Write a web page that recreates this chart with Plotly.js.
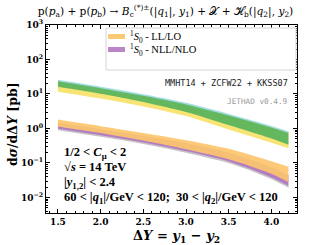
<!DOCTYPE html>
<html>
<head>
<meta charset="utf-8">
<script src="https://cdn.plot.ly/plotly-3.0.1.min.js"></script>
<style>html,body{margin:0;padding:0;background:#fff;}#chart{width:316px;height:245px;}</style>
</head>
<body>
<div id="chart"></div>
<script>
// Rapidity separation values
var deltaY = [1.5, 2.0, 2.5, 3.0, 3.5, 4.0, 4.2];

// Upper family (not in legend): LL/LO yellow band, NLL/NLO green band [pb]
var upperLL_lo  = [11.7, 7.41, 4.37, 2.29, 0.933, 0.389, 0.269];
var upperLL_hi  = [18.6, 12.3, 7.59, 4.37, 2.34, 1.12, 0.813];
var upperNLL_lo = [16.2, 10.2, 5.89, 3.02, 1.26, 0.513, 0.339];
var upperNLL_hi = [24.5, 15.5, 9.33, 5.25, 2.51, 1.12, 0.776];

// 1S0 family: LL/LO orange band, NLL/NLO purple band [pb]
var s0LL_lo  = [1.15, 0.741, 0.447, 0.251, 0.129, 0.049, 0.0282];
var s0LL_hi  = [1.82, 1.17, 0.741, 0.457, 0.257, 0.112, 0.0776];
var s0NLL_lo = [0.933, 0.603, 0.372, 0.209, 0.105, 0.0363, 0.0204];
var s0NLL_hi = [1.48, 0.955, 0.617, 0.380, 0.200, 0.0759, 0.0447];

// Axis ticks
var yTickVals = [0.01, 0.1, 1, 10, 100, 1000];
var yTickText = ['10<sup>−2</sup>', '10<sup>−1</sup>', '10<sup>0</sup>', '10<sup>1</sup>', '10<sup>2</sup>', '10<sup>3</sup>'];
var xTickVals = [1.5, 2.0, 2.5, 3.0, 3.5, 4.0];
var xTickText = ['1.5', '2.0', '2.5', '3.0', '3.5', '4.0'];

var legendNames = ['<sup>1</sup><i>S</i><sub>0</sub> - LL/LO', '<sup>1</sup><i>S</i><sub>0</sub> - NLL/NLO'];
var legendColors = ['rgba(252,198,110,0.95)', 'rgba(184,126,196,0.95)'];

function band(lo, hi, fill, name, loLine, hiLine) {
  var sm = {width: 0, shape: 'spline', smoothing: 0.8};
  var a = {x: deltaY, y: lo, mode: 'lines', hoverinfo: 'skip', showlegend: false, line: loLine || sm, name: name + ' low'};
  var b = {x: deltaY, y: hi, mode: 'lines', hoverinfo: 'skip', showlegend: false, fill: 'tonexty', fillcolor: fill,
           line: hiLine || sm, name: name};
  return [a, b];
}

var traces = [].concat(
  band(s0NLL_lo, s0NLL_hi, 'rgba(176,118,190,0.95)', '1S0 NLL/NLO',
       {width: 1.6, color: 'rgba(196,196,196,0.95)', shape: 'spline', smoothing: 0.8}),
  band(s0LL_lo, s0LL_hi, 'rgba(252,198,110,0.92)', '1S0 LL/LO'),
  band(upperLL_lo, upperLL_hi, 'rgba(248,226,110,0.95)', 'upper LL/LO'),
  band(upperNLL_lo, upperNLL_hi, 'rgba(92,180,92,0.95)', 'upper NLL/NLO', null,
       {width: 1.6, color: 'rgba(160,220,225,0.95)', shape: 'spline', smoothing: 0.8})
);

var serif = 'Liberation Serif, DejaVu Serif, serif';
var dserif = 'DejaVu Serif, Liberation Serif, serif';
var mono = 'DejaVu Sans Mono, Liberation Mono, monospace';

// pixel helpers for paper placement (plot area: x 46..297, y 25..213)
function px(x) { return (x - 46) / 251; }
function py(y) { return (213 - y) / 188; }

var shapes = [
  {type: 'rect', xref: 'paper', yref: 'paper', x0: px(106), x1: px(296), y0: py(70), y1: py(28),
   line: {color: '#d4d4d4', width: 1}, fillcolor: '#fff', layer: 'above'},
  {type: 'rect', xref: 'paper', yref: 'paper', x0: px(108), x1: px(125), y0: py(39), y1: py(34),
   line: {width: 0}, fillcolor: legendColors[0], layer: 'above'},
  {type: 'rect', xref: 'paper', yref: 'paper', x0: px(108), x1: px(125), y0: py(52), y1: py(47),
   line: {width: 0}, fillcolor: legendColors[1], layer: 'above'}
];

var annotations = [
  {xref: 'paper', yref: 'paper', x: px(128), y: py(36.5), xanchor: 'left', yanchor: 'middle', showarrow: false,
   text: legendNames[0], font: {family: serif, size: 10.5, color: '#000'}},
  {xref: 'paper', yref: 'paper', x: px(128), y: py(49.5), xanchor: 'left', yanchor: 'middle', showarrow: false,
   text: legendNames[1], font: {family: serif, size: 10.5, color: '#000'}},
  {xref: 'paper', yref: 'paper', x: px(290), y: py(83), xanchor: 'right', yanchor: 'middle', showarrow: false,
   text: 'MMHT14 + ZCFW22 + KKSS07', font: {family: mono, size: 8.5, color: '#222'}},
  {xref: 'paper', yref: 'paper', x: px(290), y: py(101), xanchor: 'right', yanchor: 'middle', showarrow: false,
   text: 'JETHAD v0.4.9', font: {family: mono, size: 7.7, color: '#999'}},
  {xref: 'paper', yref: 'paper', x: px(62), y: py(152.5), xanchor: 'left', yanchor: 'middle', showarrow: false,
   text: '<b>1/2 < <i>C</i><sub>μ</sub> < 2</b>', font: {family: serif, size: 12.5, color: '#000'}},
  {xref: 'paper', yref: 'paper', x: px(62), y: py(167), xanchor: 'left', yanchor: 'middle', showarrow: false,
   text: '<b>√<i>s</i> = 14 TeV</b>', font: {family: serif, size: 12.5, color: '#000'}},
  {xref: 'paper', yref: 'paper', x: px(62), y: py(182.5), xanchor: 'left', yanchor: 'middle', showarrow: false,
   text: '<b>|<i>y</i><sub>1,2</sub>| < 2.4</b>', font: {family: serif, size: 12.5, color: '#000'}},
  {xref: 'paper', yref: 'paper', x: px(62), y: py(197.5), xanchor: 'left', yanchor: 'middle', showarrow: false,
   text: '<b>60 < |<i>q</i><sub>1</sub>|/GeV < 120;  30 < |<i>q</i><sub>2</sub>|/GeV < 120</b>', font: {family: serif, size: 12.5, color: '#000'}},
  // axis titles
  {xref: 'paper', yref: 'paper', x: px(12), y: py(124), xanchor: 'center', yanchor: 'middle', showarrow: false, textangle: -90,
   text: '<b>d<i>σ</i>/dΔ<i>Y</i> [pb]</b>', font: {family: dserif, size: 12.5, color: '#000'}},
  {xref: 'paper', yref: 'paper', x: px(176), y: py(236), xanchor: 'center', yanchor: 'middle', showarrow: false,
   text: '<b>Δ<i>Y</i> = <i>y</i><sub>1</sub> − <i>y</i><sub>2</sub></b>', font: {family: dserif, size: 13, color: '#000'}}
];

var layout = {
  width: 316, height: 245,
  margin: {l: 46, r: 19, t: 25, b: 32, pad: 0},
  paper_bgcolor: '#fff', plot_bgcolor: '#fff',
  showlegend: false,
  title: {
    text: 'p(<i>p</i><sub>a</sub>) + p(<i>p</i><sub>b</sub>) → <i>B</i><sub>c</sub><sup>(*)±</sup>(|<i>q</i><sub>1</sub>|, <i>y</i><sub>1</sub>) + 𝒳 + ℋ<sub>b</sub>(|<i>q</i><sub>2</sub>|, <i>y</i><sub>2</sub>)',
    font: {family: dserif, size: 10.6, color: '#000'},
    x: px(165.5), xref: 'paper', xanchor: 'center', y: 0.955, yanchor: 'middle'
  },
  xaxis: {
    range: [1.36, 4.30], tickmode: 'array', tickvals: xTickVals, ticktext: xTickText,
    ticks: 'inside', ticklen: 4, tickcolor: '#000', showline: true, linecolor: '#000', linewidth: 1,
    mirror: 'allticks', showgrid: false, zeroline: false,
    minor: {ticks: 'inside', ticklen: 2, tick0: 1.5, dtick: 0.1, tickcolor: '#000', showgrid: false},
    tickfont: {family: dserif, size: 9, weight: 'bold', color: '#000'}
  },
  yaxis: {
    type: 'log', range: [-2.45, 3], tickmode: 'array', tickvals: yTickVals, ticktext: yTickText,
    ticks: 'inside', ticklen: 4, tickcolor: '#000', showline: true, linecolor: '#000', linewidth: 1,
    mirror: 'allticks', showgrid: false, zeroline: false,
    minor: {ticks: 'inside', ticklen: 2, dtick: 'D1', tickcolor: '#000', showgrid: false},
    tickfont: {family: dserif, size: 9, weight: 'bold', color: '#000'}
  },
  shapes: shapes,
  annotations: annotations
};

Plotly.newPlot('chart', traces, layout, {staticPlot: true, displayModeBar: false});
</script>
</body>
</html>
